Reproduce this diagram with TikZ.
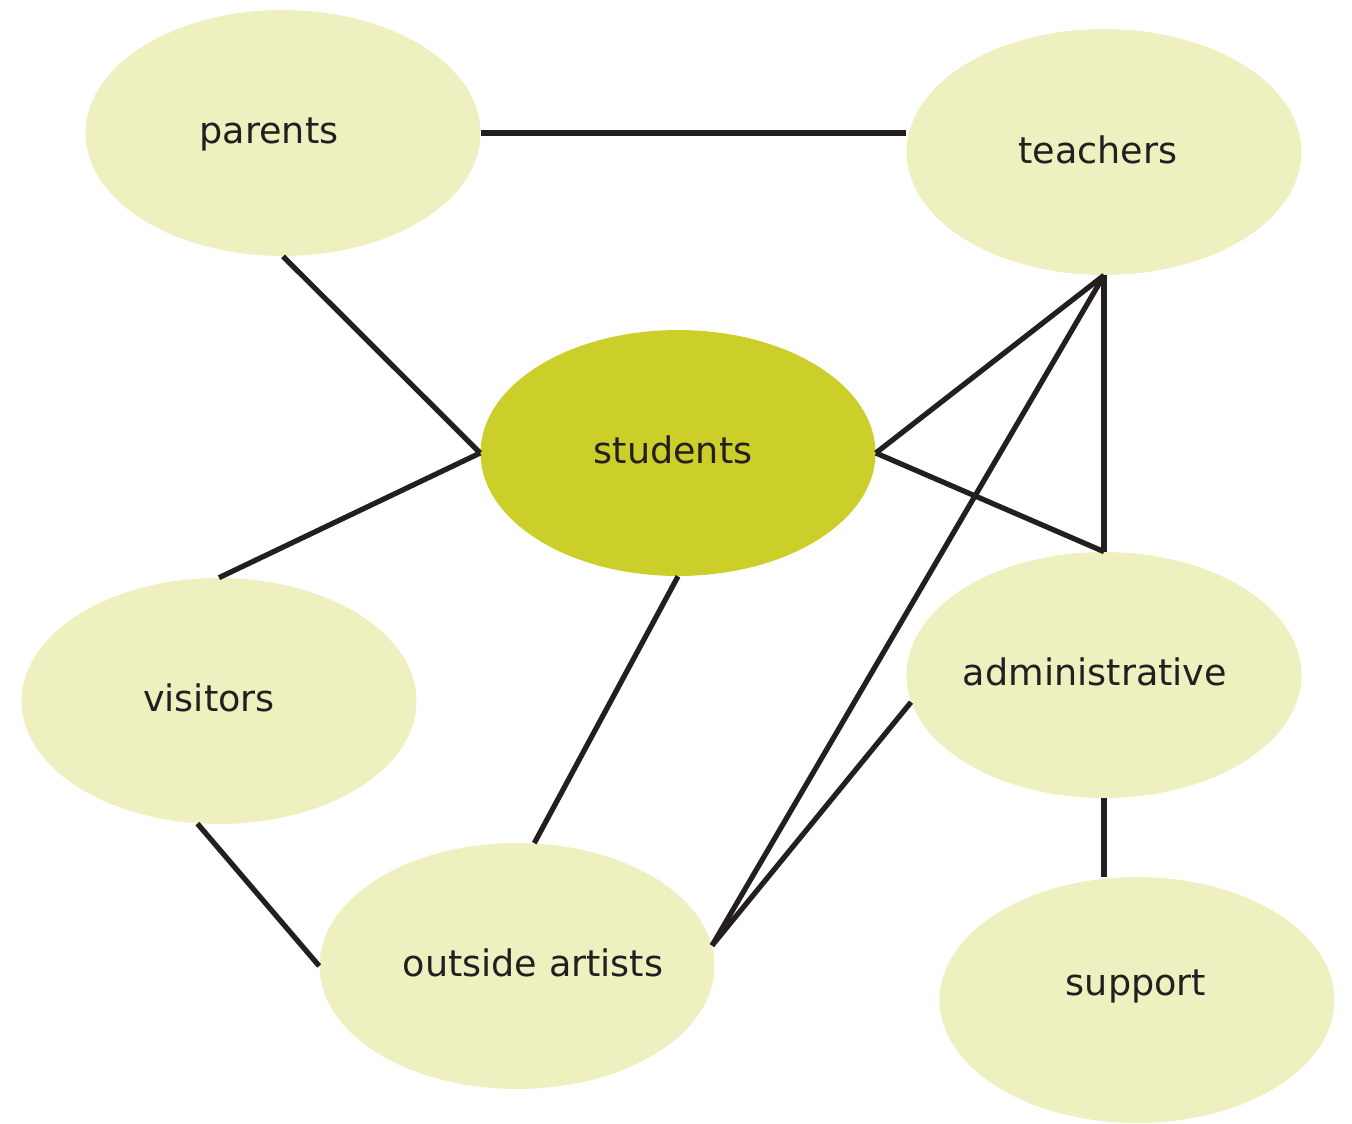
\documentclass[tikz,border=0pt]{standalone}
\usepackage{fontspec}
\setmainfont{DejaVu Sans}
\usepackage{tikz}
\usetikzlibrary{shapes.geometric}
\definecolor{paleleaf}{RGB}{238,240,192}
\definecolor{limeleaf}{RGB}{204,207,42}
\definecolor{inkline}{RGB}{35,31,32}

\begin{document}
\begin{tikzpicture}[x=0.02cm, y=-0.02cm,
    blob/.style={ellipse, fill=paleleaf, minimum width=7.9cm, minimum height=4.92cm, inner sep=0pt},
    tag/.style={text=inkline, font=\fontsize{20.8}{24}\selectfont},
    link/.style={inkline, line width=0.105cm}]
                \useasboundingbox (0,0) rectangle (1352,1123);
                \node[blob, label={[tag, xshift=-0.28cm, yshift=-0.02cm]center:parents}] (parents) at (283,133) {};
                \node[blob, label={[tag, xshift=-0.12cm, yshift=0.04cm]center:teachers}] (teachers) at (1104,152) {};
                \node[blob, fill=limeleaf, label={[tag, xshift=-0.10cm, yshift=0.06cm]center:students}] (students) at (678,453) {};
                \node[blob, label={[tag, xshift=-0.20cm, yshift=0.06cm]center:visitors}] (visitors) at (219,701) {};
                \node[blob, label={[tag, xshift=-0.18cm, yshift=0.06cm]center:administrative}] (admin) at (1104,675) {};
                \node[blob, label={[tag, xshift=0.32cm, yshift=0.06cm]center:outside artists}] (artists) at (517,966) {};
                \node[blob, label={[tag, xshift=-0.02cm, yshift=0.28cm]center:support}] (support) at (1137,1000) {};
                \draw[link] (parents.east) -- (parents.east -| teachers.west);
                \draw[link] (parents.south) -- (students.west);
                \draw[link] (students.west) -- (visitors.north);
                \draw[link] (students.south) -- (artists.82);
                \draw[link] (visitors.260) -- (artists.west);
                \draw[link] (students.east) -- (teachers.south);
                \draw[link] (students.east) -- (admin.north);
                \draw[link] (teachers.south) -- (admin.north);
                \draw[link] (teachers.south) -- (artists.6);
                \draw[link] (admin.188) -- (artists.6);
                \draw[link] (admin.south) -- (admin.south |- support.north);
            \end{tikzpicture}
\end{document}
